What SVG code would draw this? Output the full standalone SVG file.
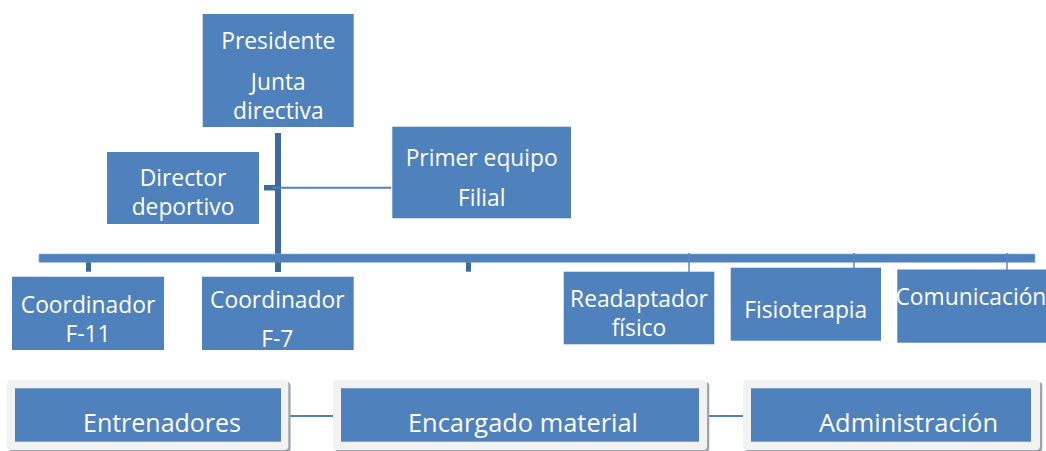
<svg xmlns="http://www.w3.org/2000/svg" width="1046" height="451" viewBox="0 0 1046 451">
<style>
.box{fill:#4f81bd}
.t{font-family:"Open Sans","Noto Sans",sans-serif;font-size:22.8px;fill:#ffffff;text-anchor:middle}
.tb{font-family:"Open Sans","Noto Sans",sans-serif;font-size:25.5px;fill:#ffffff;text-anchor:middle}
.frame{fill:#f2f2f2}
.shadow{fill:#9ea4ac}
.thin{stroke:#4f81bd;stroke-width:2;fill:none}
.hair{stroke:#5b88c0;stroke-width:1.5;fill:none}
.dark{fill:#3d6a9c}
</style>
<rect width="1046" height="451" fill="#ffffff"/>
<g id="connectors">
  <rect class="dark" x="275" y="133" width="6" height="139"/>
  <rect class="dark" x="264" y="185" width="11" height="5.5"/>
  <line class="thin" x1="272" y1="187.8" x2="391" y2="187.8"/>
  <rect x="39" y="254" width="996" height="8.3" fill="#4f81bd" stroke="#8fb0d8" stroke-width="0.6"/>
  <rect class="dark" x="86" y="262.3" width="5" height="9.4"/>
  <rect class="dark" x="275" y="262.3" width="6" height="9.4"/>
  <rect class="dark" x="466" y="262.3" width="5" height="9.4"/>
  <line class="hair" x1="689" y1="253" x2="689" y2="272"/>
  <line class="hair" x1="854" y1="253" x2="854" y2="268"/>
  <line class="hair" x1="1007" y1="253" x2="1007" y2="270"/>
  <line class="thin" x1="285" y1="416" x2="338" y2="416" stroke-width="2.5"/>
  <line class="thin" x1="699" y1="416" x2="747" y2="416" stroke-width="2.5"/>
</g>
<g id="presidente">
  <rect class="box" x="202.7" y="14" width="151" height="113"/>
  <text class="t" x="278.3" y="49.3">Presidente</text>
  <text class="t" x="278.3" y="90">Junta</text>
  <text class="t" x="278.3" y="119">directiva</text>
</g>
<g id="director">
  <rect class="box" x="107" y="152" width="152" height="72"/>
  <text class="t" x="183" y="186.2">Director</text>
  <text class="t" x="183" y="215.4">deportivo</text>
</g>
<g id="primer-equipo">
  <rect class="box" x="392.3" y="126.7" width="178.7" height="91.6"/>
  <text class="t" x="481.7" y="165.7">Primer equipo</text>
  <text class="t" x="481.7" y="205.7">Filial</text>
</g>
<g id="coord-f11">
  <rect class="box" x="12" y="276.7" width="152" height="73.3"/>
  <text class="t" x="88" y="312.7">Coordinador</text>
  <text class="t" x="88" y="341.7">F-11</text>
</g>
<g id="coord-f7">
  <rect class="box" x="202" y="276.7" width="151.7" height="73.3"/>
  <text class="t" x="277.3" y="307.7">Coordinador</text>
  <text class="t" x="277.3" y="346.7">F-7</text>
</g>
<g id="readaptador">
  <rect class="box" x="563.7" y="271.7" width="150.6" height="72.6"/>
  <text class="t" x="639" y="307">Readaptador</text>
  <text class="t" x="639" y="336">físico</text>
</g>
<g id="fisioterapia">
  <rect class="box" x="730.7" y="267.7" width="150.3" height="73"/>
  <text class="t" x="805.7" y="318.3">Fisioterapia</text>
</g>
<g id="comunicacion">
  <rect class="box" x="897.3" y="269.5" width="150" height="73.2"/>
  <text class="t" x="895.5" y="305" style="text-anchor:start">Comunicación</text>
</g>
<g id="entrenadores">
  <rect class="shadow" x="9" y="382" width="281.6" height="70" rx="4"/>
  <rect class="frame" x="6.7" y="380" width="281.6" height="70" rx="4"/>
  <rect class="box" x="15" y="388.3" width="266" height="53.4"/>
  <text class="tb" x="162" y="431.7" textLength="158" lengthAdjust="spacingAndGlyphs">Entrenadores</text>
</g>
<g id="encargado">
  <rect class="shadow" x="335.3" y="382" width="374" height="70" rx="4"/>
  <rect class="frame" x="333" y="380" width="374" height="70" rx="4"/>
  <rect class="box" x="341" y="388.3" width="358" height="53.4"/>
  <text class="tb" x="523" y="431.7" textLength="230" lengthAdjust="spacingAndGlyphs">Encargado material</text>
</g>
<g id="administracion">
  <rect class="shadow" x="745.3" y="382" width="297" height="70" rx="4"/>
  <rect class="frame" x="743" y="380" width="297" height="70" rx="4"/>
  <rect class="box" x="751" y="388.3" width="280" height="53.4"/>
  <text class="tb" x="908.5" y="431.7" textLength="179" lengthAdjust="spacingAndGlyphs">Administración</text>
</g>
</svg>
